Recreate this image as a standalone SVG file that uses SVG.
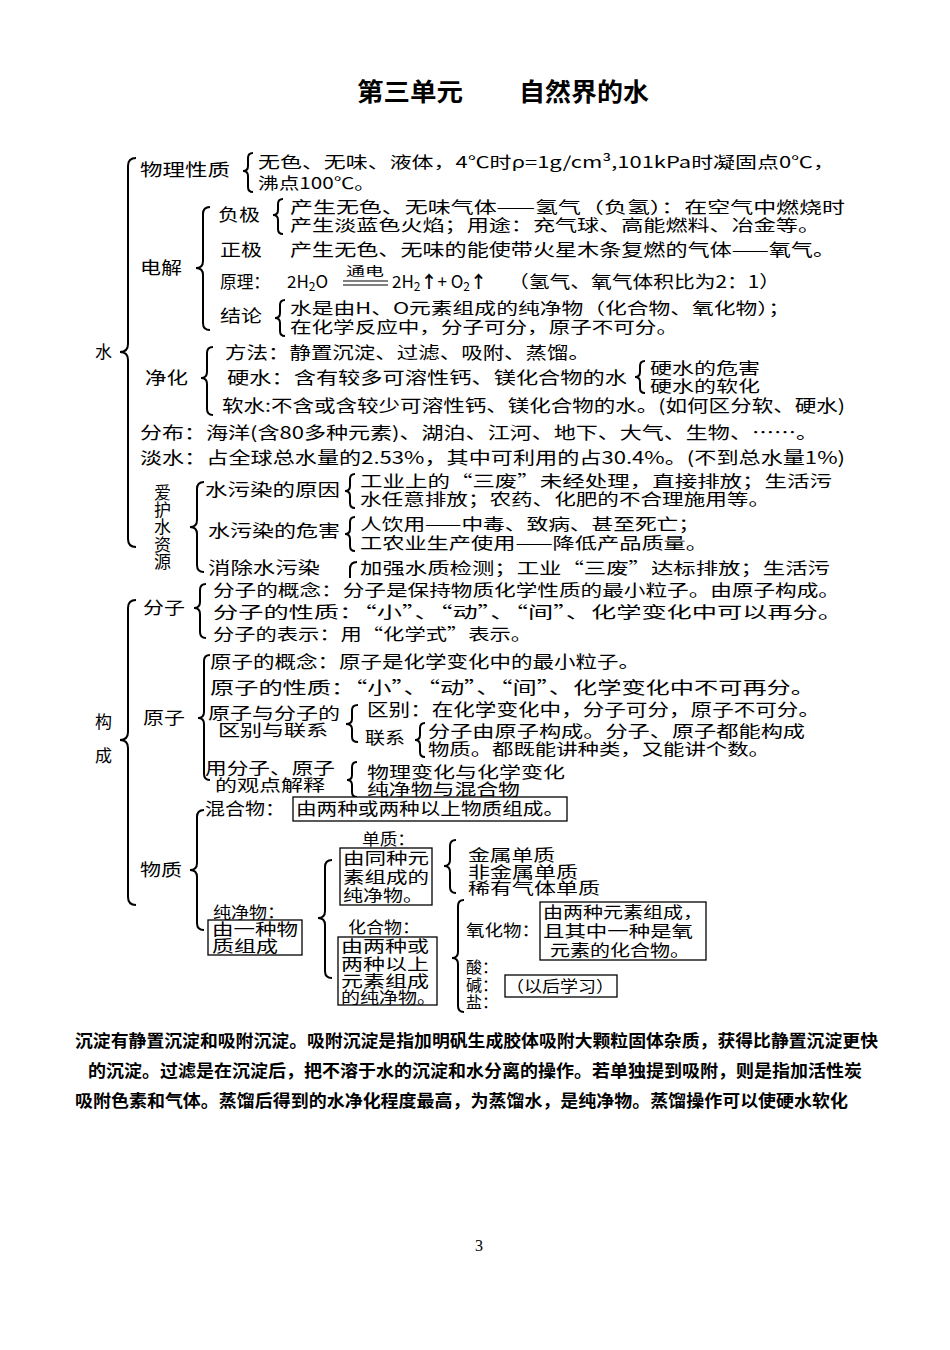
<svg xmlns="http://www.w3.org/2000/svg" width="950" height="1350" viewBox="0 0 950 1350">
<style>
text{font-family:"Noto Sans CJK SC","Noto Sans",sans-serif;font-size:17px;fill:#000}
.d{font-size:16px}
.title{font-size:25px;font-weight:700}
.para{font-size:17px;font-weight:700}
.sm{font-size:12px}
.pg{font-family:"Liberation Serif",serif;font-size:16px}
.br{fill:none;stroke:#000;stroke-width:2}
.box{fill:#fff;stroke:#000;stroke-width:1.3}
</style>
<rect width="950" height="1350" fill="#fff"/>
<g id="title">
<text class="title" x="357" y="101" textLength="106" lengthAdjust="spacingAndGlyphs">第三单元</text>
<text class="title" x="519" y="101" textLength="130" lengthAdjust="spacingAndGlyphs">自然界的水</text>
</g>
<g id="connectors">
<path class="br" d="M136,158 Q128,158 128,166 L128,344 Q128,352 120,352 Q128,352 128,360 L128,539 Q128,547 136,547"/>
<path class="br" d="M253,153 Q248,153 248,158 L248,166 Q248,171 243,171 Q248,171 248,176 L248,187 Q248,192 253,192"/>
<path class="br" d="M283,199 Q278,199 278,204 L278,210 Q278,215 273,215 Q278,215 278,220 L278,229 Q278,234 283,234"/>
<path class="br" d="M210,207 Q203,207 203,214 L203,261 Q203,268 196,268 Q203,268 203,275 L203,323 Q203,330 210,330"/>
<path class="br" d="M285,300 Q280,300 280,305 L280,313 Q280,318 275,318 Q280,318 280,323 L280,331 Q280,336 285,336"/>
<path class="br" d="M213,347 Q207,347 207,353 L207,372 Q207,378 201,378 Q207,378 207,384 L207,409 Q207,415 213,415"/>
<path class="br" d="M645,361 Q640,361 640,366 L640,372 Q640,377 635,377 Q640,377 640,382 L640,388 Q640,393 645,393"/>
<path class="br" d="M204,482 Q197,482 197,489 L197,520 Q197,527 190,527 Q197,527 197,534 L197,565 Q197,572 204,572"/>
<path class="br" d="M355,474 Q350,474 350,479 L350,486 Q350,491 345,491 Q350,491 350,496 L350,503 Q350,508 355,508"/>
<path class="br" d="M355,517 Q350,517 350,522 L350,529 Q350,534 345,534 Q350,534 350,539 L350,546 Q350,551 355,551"/>
<path class="br" d="M357,562 Q350,562 350,569 L350,578"/>
<path class="br" d="M136,600 Q128,600 128,608 L128,732 Q128,740 120,740 Q128,740 128,748 L128,897 Q128,905 136,905"/>
<path class="br" d="M206,584 Q200,584 200,590 L200,602 Q200,608 194,608 Q200,608 200,614 L200,632 Q200,638 206,638"/>
<path class="br" d="M210,655 Q204,655 204,661 L204,712 Q204,718 198,718 Q204,718 204,724 L204,774 Q204,780 210,780"/>
<path class="br" d="M358,705 Q352,705 352,710 L352,719 Q352,724 346,724 Q352,724 352,729 L352,737 Q352,742 358,742"/>
<path class="br" d="M425,723 Q420,723 420,728 L420,735 Q420,740 415,740 Q420,740 420,745 L420,752 Q420,757 425,757"/>
<path class="br" d="M357,762 Q352,762 352,767 L352,775 Q352,780 347,780 Q352,780 352,785 L352,792 Q352,797 357,797"/>
<path class="br" d="M204,810 Q197,810 197,817 L197,863 Q197,870 190,870 Q197,870 197,877 L197,923 Q197,930 204,930"/>
<path class="br" d="M456,840 Q450,840 450,846 L450,860 Q450,866 444,866 Q450,866 450,872 L450,887 Q450,893 456,893"/>
<path class="br" d="M332,860 Q325,860 325,867 L325,911 Q325,918 318,918 Q325,918 325,925 L325,971 Q325,978 332,978"/>
<path class="br" d="M464,900 Q458,900 458,906 L458,952 Q458,958 452,958 Q458,958 458,964 L458,1006 Q458,1012 464,1012"/>
</g>
<g id="node-water">
<text x="95" y="358">水</text>
</g>
<g id="node-physical">
<text x="140" y="176" textLength="90" lengthAdjust="spacingAndGlyphs">物理性质</text>
<text class="d" x="258" y="168" textLength="577" lengthAdjust="spacingAndGlyphs">无色、无味、液体，4℃时ρ=1g/cm³,101kPa时凝固点0℃，</text>
<text class="d" x="258" y="189" textLength="117" lengthAdjust="spacingAndGlyphs">沸点100℃。</text>
</g>
<g id="node-electrolysis">
<text x="140" y="274" textLength="42" lengthAdjust="spacingAndGlyphs">电解</text>
<text x="218" y="221" textLength="42" lengthAdjust="spacingAndGlyphs">负极</text>
<text class="d" x="290" y="213" textLength="555" lengthAdjust="spacingAndGlyphs">产生无色、无味气体——氢气（负氢）：在空气中燃烧时</text>
<text class="d" x="290" y="231" textLength="530" lengthAdjust="spacingAndGlyphs">产生淡蓝色火焰；用途：充气球、高能燃料、冶金等。</text>
<text x="220" y="256" textLength="42" lengthAdjust="spacingAndGlyphs">正极</text>
<text x="290" y="256" textLength="545" lengthAdjust="spacingAndGlyphs">产生无色、无味的能使带火星木条复燃的气体——氧气。</text>
<text x="220" y="288" textLength="50" lengthAdjust="spacingAndGlyphs">原理：</text>
<text x="287" y="288">2H<tspan class="sm" dy="3">2</tspan><tspan dy="-3">O</tspan></text>
<text class="sm" x="346" y="276" textLength="38" lengthAdjust="spacingAndGlyphs">通电</text>
<line x1="343" y1="281" x2="388" y2="281" stroke="#000" stroke-width="1.2"/>
<line x1="343" y1="285" x2="388" y2="285" stroke="#000" stroke-width="1.2"/>
<text x="392" y="288">2H<tspan class="sm" dy="3">2</tspan><tspan dy="-3" font-weight="700">↑</tspan>+ O<tspan class="sm" dy="3">2</tspan><tspan dy="-3" font-weight="700">↑</tspan></text>
<text x="508" y="288" textLength="272" lengthAdjust="spacingAndGlyphs">（氢气、氧气体积比为2：1）</text>
<text x="220" y="322" textLength="42" lengthAdjust="spacingAndGlyphs">结论</text>
<text class="d" x="290" y="314" textLength="500" lengthAdjust="spacingAndGlyphs">水是由H、O元素组成的纯净物（化合物、氧化物）；</text>
<text class="d" x="290" y="333" textLength="388" lengthAdjust="spacingAndGlyphs">在化学反应中，分子可分，原子不可分。</text>
</g>
<g id="node-purify">
<text x="145" y="384" textLength="43" lengthAdjust="spacingAndGlyphs">净化</text>
<text x="225" y="359" textLength="365" lengthAdjust="spacingAndGlyphs">方法：静置沉淀、过滤、吸附、蒸馏。</text>
<text x="227" y="384" textLength="400" lengthAdjust="spacingAndGlyphs">硬水：含有较多可溶性钙、镁化合物的水</text>
<text class="d" x="650" y="374" textLength="110" lengthAdjust="spacingAndGlyphs">硬水的危害</text>
<text class="d" x="650" y="392" textLength="110" lengthAdjust="spacingAndGlyphs">硬水的软化</text>
<text x="222" y="412" textLength="623" lengthAdjust="spacingAndGlyphs">软水:不含或含较少可溶性钙、镁化合物的水。(如何区分软、硬水)</text>
</g>
<g id="node-distribution">
<text x="140" y="439" textLength="678" lengthAdjust="spacingAndGlyphs">分布：海洋(含80多种元素)、湖泊、江河、地下、大气、生物、……。</text>
</g>
<g id="node-freshwater">
<text x="140" y="464" textLength="705" lengthAdjust="spacingAndGlyphs">淡水：占全球总水量的2.53%，其中可利用的占30.4%。(不到总水量1%)</text>
</g>
<g id="node-protect">
<text x="154" y="499">爱</text>
<text x="154" y="516">护</text>
<text x="154" y="533">水</text>
<text x="154" y="551">资</text>
<text x="154" y="568">源</text>
<text x="205" y="496" textLength="135" lengthAdjust="spacingAndGlyphs">水污染的原因</text>
<text class="d" x="360" y="487" textLength="472" lengthAdjust="spacingAndGlyphs">工业上的“三废”未经处理，直接排放；生活污</text>
<text class="d" x="360" y="505" textLength="410" lengthAdjust="spacingAndGlyphs">水任意排放；农药、化肥的不合理施用等。</text>
<text x="208" y="537" textLength="132" lengthAdjust="spacingAndGlyphs">水污染的危害</text>
<text class="d" x="360" y="530" textLength="340" lengthAdjust="spacingAndGlyphs">人饮用——中毒、致病、甚至死亡；</text>
<text class="d" x="360" y="549" textLength="348" lengthAdjust="spacingAndGlyphs">工农业生产使用——降低产品质量。</text>
<text x="208" y="574" textLength="112" lengthAdjust="spacingAndGlyphs">消除水污染</text>
<text class="d" x="360" y="574" textLength="470" lengthAdjust="spacingAndGlyphs">加强水质检测；工业“三废”达标排放；生活污</text>
</g>
<g id="node-composition">
<text x="95" y="728">构</text>
<text x="95" y="762">成</text>
</g>
<g id="node-molecule">
<text x="143" y="614" textLength="42" lengthAdjust="spacingAndGlyphs">分子</text>
<text class="d" x="213" y="596" textLength="627" lengthAdjust="spacingAndGlyphs">分子的概念：分子是保持物质化学性质的最小粒子。由原子构成。</text>
<text class="d" x="213" y="618" textLength="630" lengthAdjust="spacingAndGlyphs">分子的性质：“小”、“动”、“间”、化学变化中可以再分。</text>
<text class="d" x="213" y="640" textLength="319" lengthAdjust="spacingAndGlyphs">分子的表示：用“化学式”表示。</text>
</g>
<g id="node-atom">
<text x="143" y="724" textLength="42" lengthAdjust="spacingAndGlyphs">原子</text>
<text x="210" y="668" textLength="430" lengthAdjust="spacingAndGlyphs">原子的概念：原子是化学变化中的最小粒子。</text>
<text x="210" y="694" textLength="605" lengthAdjust="spacingAndGlyphs">原子的性质：“小”、“动”、“间”、化学变化中不可再分。</text>
<text class="d" x="208" y="719" textLength="132" lengthAdjust="spacingAndGlyphs">原子与分子的</text>
<text class="d" x="218" y="736" textLength="110" lengthAdjust="spacingAndGlyphs">区别与联系</text>
<text x="367" y="716" textLength="453" lengthAdjust="spacingAndGlyphs">区别：在化学变化中，分子可分，原子不可分。</text>
<text x="365" y="744" textLength="40" lengthAdjust="spacingAndGlyphs">联系</text>
<text class="d" x="428" y="737" textLength="377" lengthAdjust="spacingAndGlyphs">分子由原子构成。分子、原子都能构成</text>
<text class="d" x="428" y="755" textLength="342" lengthAdjust="spacingAndGlyphs">物质。都既能讲种类，又能讲个数。</text>
<text class="d" x="205" y="774" textLength="130" lengthAdjust="spacingAndGlyphs">用分子、原子</text>
<text class="d" x="215" y="791" textLength="110" lengthAdjust="spacingAndGlyphs">的观点解释</text>
<text class="d" x="367" y="778" textLength="198" lengthAdjust="spacingAndGlyphs">物理变化与化学变化</text>
<text class="d" x="367" y="795" textLength="153" lengthAdjust="spacingAndGlyphs">纯净物与混合物</text>
</g>
<g id="node-substance">
<text x="140" y="876" textLength="42" lengthAdjust="spacingAndGlyphs">物质</text>
<text x="205" y="815" textLength="80" lengthAdjust="spacingAndGlyphs">混合物：</text>
<rect class="box" x="293" y="797" width="274" height="24"/>
<text x="296" y="815" textLength="268" lengthAdjust="spacingAndGlyphs">由两种或两种以上物质组成。</text>
</g>
<g id="node-pure">
<text class="d" x="213" y="918" textLength="72" lengthAdjust="spacingAndGlyphs">纯净物：</text>
<rect class="box" x="208" y="920" width="94" height="35"/>
<text class="d" x="212" y="935" textLength="86" lengthAdjust="spacingAndGlyphs">由一种物</text>
<text class="d" x="212" y="952" textLength="66" lengthAdjust="spacingAndGlyphs">质组成</text>
</g>
<g id="node-element">
<text class="d" x="362" y="845" textLength="53" lengthAdjust="spacingAndGlyphs">单质：</text>
<rect class="box" x="340" y="848" width="92" height="57"/>
<text class="d" x="343" y="864" textLength="86" lengthAdjust="spacingAndGlyphs">由同种元</text>
<text class="d" x="343" y="883" textLength="86" lengthAdjust="spacingAndGlyphs">素组成的</text>
<text class="d" x="343" y="901" textLength="80" lengthAdjust="spacingAndGlyphs">纯净物。</text>
<text class="d" x="468" y="861" textLength="87" lengthAdjust="spacingAndGlyphs">金属单质</text>
<text class="d" x="468" y="878" textLength="110" lengthAdjust="spacingAndGlyphs">非金属单质</text>
<text class="d" x="468" y="894" textLength="132" lengthAdjust="spacingAndGlyphs">稀有气体单质</text>
</g>
<g id="node-compound">
<text class="d" x="348" y="933" textLength="72" lengthAdjust="spacingAndGlyphs">化合物：</text>
<rect class="box" x="338" y="937" width="99" height="68"/>
<text class="d" x="341" y="952" textLength="88" lengthAdjust="spacingAndGlyphs">由两种或</text>
<text class="d" x="341" y="970" textLength="88" lengthAdjust="spacingAndGlyphs">两种以上</text>
<text class="d" x="341" y="987" textLength="88" lengthAdjust="spacingAndGlyphs">元素组成</text>
<text class="d" x="341" y="1003" textLength="95" lengthAdjust="spacingAndGlyphs">的纯净物。</text>
</g>
<g id="node-oxide">
<text class="d" x="466" y="936" textLength="74" lengthAdjust="spacingAndGlyphs">氧化物：</text>
<rect class="box" x="540" y="902" width="166" height="58"/>
<text class="d" x="543" y="918" textLength="160" lengthAdjust="spacingAndGlyphs">由两种元素组成，</text>
<text class="d" x="543" y="937" textLength="150" lengthAdjust="spacingAndGlyphs">且其中一种是氧</text>
<text class="d" x="550" y="956" textLength="140" lengthAdjust="spacingAndGlyphs">元素的化合物。</text>
</g>
<g id="node-acid">
<text class="d" x="466" y="973">酸：</text>
<text class="d" x="466" y="991">碱：</text>
<text class="d" x="466" y="1008">盐：</text>
<rect class="box" x="505" y="975" width="112" height="22"/>
<text class="d" x="506" y="992" textLength="108" lengthAdjust="spacingAndGlyphs">（以后学习）</text>
</g>
<g id="paragraph">
<text class="para" x="75" y="1047" textLength="803" lengthAdjust="spacingAndGlyphs">沉淀有静置沉淀和吸附沉淀。吸附沉淀是指加明矾生成胶体吸附大颗粒固体杂质，获得比静置沉淀更快</text>
<text class="para" x="88" y="1077" textLength="774" lengthAdjust="spacingAndGlyphs">的沉淀。过滤是在沉淀后，把不溶于水的沉淀和水分离的操作。若单独提到吸附，则是指加活性炭</text>
<text class="para" x="75" y="1107" textLength="773" lengthAdjust="spacingAndGlyphs">吸附色素和气体。蒸馏后得到的水净化程度最高，为蒸馏水，是纯净物。蒸馏操作可以使硬水软化</text>
</g>
<text class="pg" x="475" y="1251">3</text>
</svg>
